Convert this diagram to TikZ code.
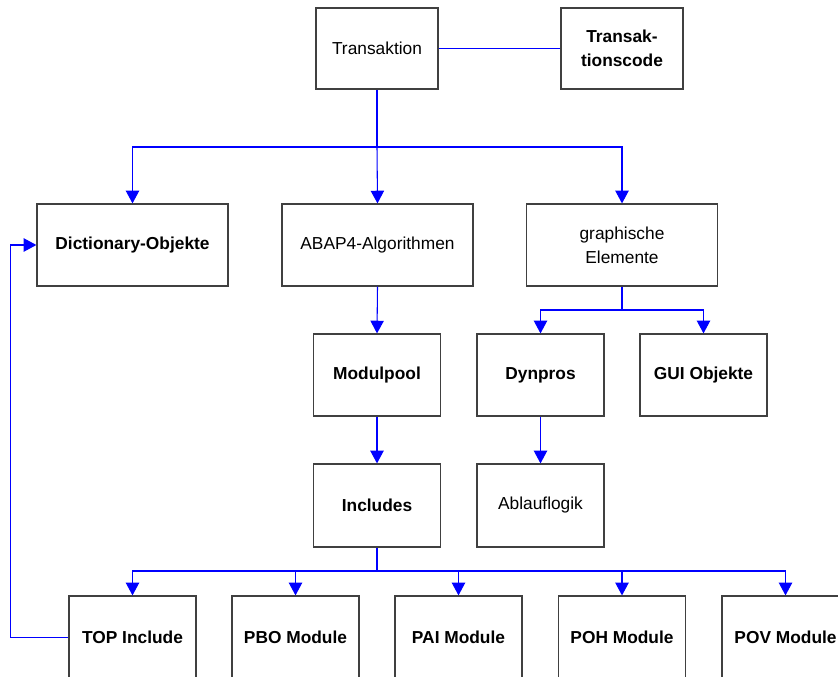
\documentclass[tikz,border=0pt]{standalone}
\usepackage{fontspec}
\setmainfont{Liberation Sans}
\usetikzlibrary{arrows.meta}

\begin{document}
\begin{tikzpicture}[x=0.75pt, y=-0.75pt,
    box/.style={draw=black!75, line width=0.9pt, fill=white, align=center,
        font=\fontsize{13}{18}\selectfont, inner sep=0pt},
    wide/.style={box, minimum width=143.25pt, minimum height=61.5pt},
    small/.style={box, minimum width=95.25pt, minimum height=61.5pt},
    link/.style={draw=blue, line width=0.8pt},
    arr/.style={link, -{Triangle[width=10pt, length=9.5pt]}}]

\useasboundingbox (0,0) rectangle (838,677);

% Top row
\node[box, minimum width=91.5pt, minimum height=60.75pt] (trans) at (377,48.5) {Transaktion};
\node[box, minimum width=91.5pt, minimum height=60.75pt] (tcode) at (622,48.5) {\bfseries Transak-\\\bfseries tionscode};
\draw[link] (trans.east) -- (tcode.west);

% Second row
\node[wide] (dict) at (132.5,245) {\bfseries Dictionary-Objekte};
\node[wide] (abap) at (377.5,245) {ABAP4-Algorithmen};
\node[wide] (graph) at (622,245) {graphische\\Elemente};

\coordinate (j1) at (377,147);
\draw[link] (trans.south) -- (j1);
\draw[arr] (j1) -| (dict.north);
\draw[arr] (j1) -- (abap.north);
\draw[arr] (j1) -| (graph.north);

% Third row
\node[small] (modul) at (377,375) {\bfseries Modulpool};
\node[small] (dyn) at (540.5,375) {\bfseries Dynpros};
\node[small] (gui) at (703.5,375) {\bfseries GUI Objekte};

\draw[arr] (abap.south) -- (modul.north);
\coordinate (j2) at (622,310);
\draw[link] (graph.south) -- (j2);
\draw[arr] (j2) -| (dyn.north);
\draw[arr] (j2) -| (gui.north);

% Fourth row
\node[small, minimum height=62.25pt] (incl) at (377,505.5) {\bfseries Includes};
\node[small, minimum height=62.25pt] (ablauf) at (540.5,505.5) {Ablauflogik};
\draw[arr] (modul.south) -- (incl.north);
\draw[arr] (dyn.south) -- (ablauf.north);

% Bottom row
\coordinate (j3) at (377,571);
\draw[link] (incl.south) -- (j3);
\foreach \name/\x/\txt in {top/132.5/TOP Include, pbo/295.5/PBO Module,
    pai/458.5/PAI Module, poh/622/POH Module, pov/785.5/POV Module} {
    \node[small, minimum height=62.25pt] (\name) at (\x,637.5) {\bfseries \txt};
    \draw[arr] (j3) -| (\name.north);
}

% Back to the dictionary
\draw[arr] (top.west) -- ++(-58,0) |- (dict.west);

\end{tikzpicture}
\end{document}
